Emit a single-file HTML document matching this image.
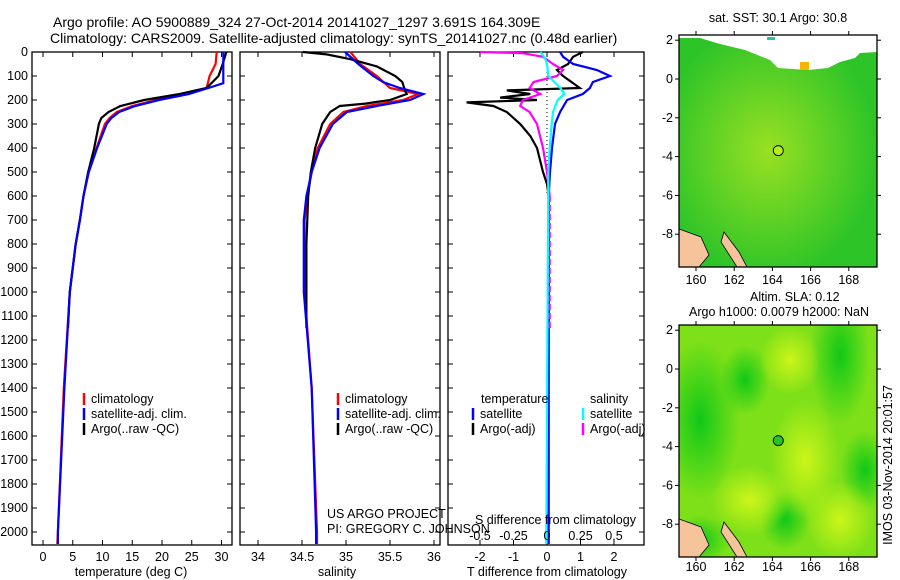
<!DOCTYPE html>
<html><head><meta charset="utf-8"><style>
body{margin:0;background:#fff}
svg{display:block;font-family:"Liberation Sans",sans-serif;font-size:12.5px}
</style></head><body>
<svg id="c" width="900" height="580" viewBox="0 0 900 580">
<defs>
<radialGradient id="g1" cx="0.45" cy="0.5" r="0.55"><stop offset="0" stop-color="#99e022"/><stop offset="1" stop-color="#2dc428"/></radialGradient>
<radialGradient id="b1" r="0.5"><stop offset="0" stop-color="#ccf51a"/><stop offset="1" stop-color="#ccf51a" stop-opacity="0"/></radialGradient>
<radialGradient id="b2" r="0.5"><stop offset="0" stop-color="#10c818"/><stop offset="1" stop-color="#10c818" stop-opacity="0"/></radialGradient>
<clipPath id="cp1"><rect x="679" y="35" width="198" height="232"/></clipPath>
<clipPath id="cp2"><rect x="679" y="325" width="198" height="232"/></clipPath>
</defs>
<text x="53" y="27" font-size="14">Argo profile: AO 5900889_324 27-Oct-2014 20141027_1297 3.691S 164.309E</text>
<text x="50" y="43" font-size="14">Climatology: CARS2009. Satellite-adjusted climatology: synTS_20141027.nc (0.48d earlier)</text>
<g id="plots"></g>
</svg>
<script>
const tDepth=[0,50,100,150,175,200,225,250,275,300,400,500,600,700,800,1000,1400,2000,2050];
const tClim=[29.2,29.0,28.0,27.5,24,19,15,12.4,11.2,10.4,9,7.6,6.8,6.2,5.5,4.5,3.5,2.5,2.4];
const tSatDepth=[0,130,150,175,200,225,250,275,300,400,500,600,700,800,1000,1400,2000,2050];
const tSat=[30.3,30.3,27.8,24.5,19.5,15.5,12.8,11.5,10.7,9.1,7.7,6.8,6.2,5.5,4.5,3.6,2.5,2.5];
const tArgoDepth=[0,50,100,150,175,200,225,250,275,300,400,500,600,700,800,1000,1150];
const tArgo=[30.8,30.2,29.5,27.5,23,17,13,11,9.8,9.4,8.6,7.6,6.8,6.2,5.5,4.5,4.2];
const sDepth=[0,50,100,150,175,200,225,250,300,400,500,600,700,1000,1400,2000,2050];
const sClim=[35.05,35.16,35.35,35.5,35.82,35.65,35.24,34.97,34.82,34.68,34.61,34.56,34.53,34.53,34.61,34.67,34.67];
const sSatDepth=[0,50,100,125,150,175,200,225,250,300,400,500,600,700,1000,1400,2000,2050];
const sSat=[34.99,35.14,35.31,35.42,35.61,35.88,35.73,35.35,35.01,34.85,34.7,34.61,34.55,34.52,34.52,34.61,34.66,34.66];
const sArgoDepth=[0,10,30,60,100,125,160,175,200,215,225,250,300,400,500,600,800,1150];
const sArgo=[34.51,34.78,35.05,35.35,35.56,35.64,35.67,35.69,35.5,35.22,34.93,34.82,34.73,34.65,34.6,34.57,34.55,34.55];
const dTSatDepth=[0,20,50,75,100,125,150,175,200,250,300,400,500,600,2050];
const dTSat=[0.39,0.48,0.78,1.49,1.88,1.37,1.28,1.07,0.6,0.39,0.24,0.15,0.09,0.05,0.05];
const dTArgoDepth=[0,20,50,75,100,150,160,175,190,200,210,225,250,300,350,400,500,550,600,1150];
const dTArgo=[1.07,0.78,0.63,0.3,0.48,0.98,-1.2,-0.5,-1.4,-0.3,-2.4,-1.6,-1.2,-0.8,-0.5,-0.3,-0.12,0,0.05,0.05];
const dSSatDepth=[0,25,50,100,150,175,200,250,300,400,500,2050];
const dSSat=[-0.05,-0.015,0,0.01,0.1,0.13,0.08,0.045,0.035,0.02,0.01,-0.005];
const dSArgoDepth=[0,5,20,50,75,100,125,150,175,200,225,250,300,400,500,600,1150];
const dSArgo=[-0.5,-0.18,-0.03,0.045,0.12,0.075,-0.1,-0.13,-0.05,-0.18,-0.2,-0.13,-0.075,-0.03,0,0.02,0.02];
const depthTicks=[0,100,200,300,400,500,600,700,800,900,1000,1100,1200,1300,1400,1500,1600,1700,1800,1900,2000];
const tTicks=[0,5,10,15,20,25,30];
const sTicks=[34,34.5,35,35.5,36];
const dTTicks=[-2,-1,0,1,2];
const dSTicks=[-0.5,-0.25,0,0.25,0.5];
const latTicks=[2,0,-2,-4,-6,-8];
const lonTicks=[160,162,164,166,168];
const argoLat=-3.691, argoLon=164.309;

const NS='http://www.w3.org/2000/svg';
const G=document.getElementById('plots');
function mk(tag,at,parent){const e=document.createElementNS(NS,tag);for(const k in at)e.setAttribute(k,at[k]);(parent||G).appendChild(e);return e;}
const yD=d=>52+d*0.24;
const xT=t=>43+t*5.95, xS=s=>258+(s-34)*88, xDT=v=>547+v*33.5, xDS=v=>547+v*134;

function line(xs,ds,fx,col,name,dash){
  const p=xs.map((v,i)=>fx(v).toFixed(1)+','+yD(ds[i]).toFixed(1)).join(' ');
  const e=mk('polyline',{points:p,fill:'none',stroke:col,'stroke-width':2.2});
  if(dash)e.setAttribute('stroke-dasharray',dash);
  
  
}
function frame(x0,x1,name){
  const r=mk('rect',{x:x0,y:52,width:x1-x0,height:493,fill:'none',stroke:'#000','stroke-width':1.3});
  
  
  depthTicks.forEach(d=>{mk('line',{x1:x0,x2:x0+5,y1:yD(d),y2:yD(d),stroke:'#000'});mk('line',{x1:x1,x2:x1-5,y1:yD(d),y2:yD(d),stroke:'#000'});});
}
function txt(x,y,s,name,anchor){const e=mk('text',{x:x,y:y,'text-anchor':anchor||'start'});e.textContent=s;return e;}
function xticks(ticks,fx,name,y0,y1,ly){
  ticks.forEach(t=>{mk('line',{x1:fx(t),x2:fx(t),y1:y1,y2:y1-5,stroke:'#000'});mk('line',{x1:fx(t),x2:fx(t),y1:y0,y2:y0+5,stroke:'#000'});
   txt(fx(t),ly,String(t),name,'middle');});
}
frame(32,232,'temperature-panel');
depthTicks.forEach(d=>txt(28,yD(d)+4,String(d),'depth-tick-label','end'));
xticks(tTicks,xT,'temperature-tick-label',52,545,561);
txt(131,576,'temperature (deg C)','temperature-axis-title','middle');
line(tClim,tDepth,xT,'#f00','temperature-climatology-line');
line(tArgo,tArgoDepth,xT,'#000','temperature-argo-line');
line(tSat,tSatDepth,xT,'#00f','temperature-satellite-line');
frame(240,440,'salinity-panel');
xticks(sTicks,xS,'salinity-tick-label',52,545,561);
txt(337,576,'salinity','salinity-axis-title','middle');
line(sClim,sDepth,xS,'#f00','salinity-climatology-line');
line(sArgo,sArgoDepth,xS,'#000','salinity-argo-line');
line(sSat,sSatDepth,xS,'#00f','salinity-satellite-line');
frame(448,644,'difference-panel');
xticks(dTTicks,xDT,'t-diff-tick-label',52,545,561);
txt(547,576,'T difference from climatology','t-diff-axis-title','middle');
mk('line',{x1:547,x2:547,y1:52,y2:yD(600),stroke:'#000','stroke-dasharray':'1,3'});
line(dTArgo,dTArgoDepth,xDT,'#000','t-diff-argo-line');
line(dTSat,dTSatDepth,xDT,'#00f','t-diff-satellite-line');
line(dSArgo.slice(0,16),dSArgoDepth.slice(0,16),xDS,'#f0f','s-diff-argo-line');
line(dSArgo.slice(15),dSArgoDepth.slice(15),xDS,'#f0f','s-diff-argo-dashed-line','6,3');
line(dSSat,dSSatDepth,xDS,'#0ff','s-diff-satellite-line');
txt(475,524,'S difference from climatology','s-diff-axis-title');
dSTicks.forEach(t=>txt(xDS(t),540,String(t),'s-diff-tick-label','middle'));
function leg(x,y,col,s,name){mk('line',{x1:x,x2:x,y1:y-10,y2:y+2,stroke:col,'stroke-width':2.5});txt(x+7,y,s,name);}
[84,338].forEach(x=>leg(x,403,'#f00','climatology','legend-climatology'));
[84,338].forEach(x=>leg(x,418,'#00f','satellite-adj. clim.','legend-satellite'));
[84,338].forEach(x=>leg(x,433,'#000','Argo(..raw -QC)','legend-argo'));
txt(481,403,'temperature','legend-temperature-heading');
txt(590,403,'salinity','legend-salinity-heading');
leg(473,418,'#00f','satellite','legend-t-satellite');
leg(473,433,'#000','Argo(-adj)','legend-t-argo');
leg(583,418,'#0ff','satellite','legend-s-satellite');
leg(583,433,'#f0f','Argo(-adj)','legend-s-argo');
txt(327,518,'US ARGO PROJECT','project-credit');
txt(327,533,'PI: GREGORY C. JOHNSON','pi-credit');
function map(y0,y1,lat0y,fill,name,blobs,markerFill,lblY,white,clip){
  const x0=679,x1=877, xL=l=>696+(l-160)*19.1, yL=l=>lat0y-l*19.4;
  const g=mk('g',{'clip-path':'url(#'+clip+')'});
  const r=mk('rect',{x:x0,y:y0,width:x1-x0,height:y1-y0,fill:fill},g);
  
  
  blobs.forEach(b=>mk('ellipse',{cx:b[0],cy:b[1],rx:b[2],ry:b[3],fill:b[4]},g));
  if(white){mk('path',{d:white,fill:'#fff'},g);mk('rect',{x:800,y:62,width:9,height:8,fill:'#f8b400'},g);mk('rect',{x:767,y:37,width:8,height:3,fill:'#20c8a0'});}
  mk('path',{d:`M${x0} ${y1-38} L${x0+22} ${y1-30} L${x0+30} ${y1-12} L${x0+20} ${y1} L${x0} ${y1}Z M${x0+45} ${y1-35} L${x0+60} ${y1-15} L${x0+68} ${y1} L${x0+58} ${y1} L${x0+42} ${y1-25}Z`,fill:'#f6c49a',stroke:'#000','stroke-width':0.8},g);
  mk('rect',{x:x0,y:y0,width:x1-x0,height:y1-y0,fill:'none',stroke:'#000','stroke-width':1.3});
  latTicks.forEach(l=>{mk('line',{x1:x0,x2:x0-4,y1:yL(l),y2:yL(l),stroke:'#000'});mk('line',{x1:x1,x2:x1+4,y1:yL(l),y2:yL(l),stroke:'#000'});txt(673,yL(l)+4,String(l),'map-lat-label','end');});
  lonTicks.forEach(l=>{mk('line',{x1:xL(l),x2:xL(l),y1:y0,y2:y0-4,stroke:'#000'});mk('line',{x1:xL(l),x2:xL(l),y1:y1,y2:y1+4,stroke:'#000'});txt(xL(l),lblY,String(l),'map-lon-label','middle');});
  const c=mk('circle',{cx:xL(argoLon),cy:yL(argoLat),r:5,fill:markerFill,stroke:'#000'});
  
  
}
map(35,267,79,'url(#g1)','sst-map',[],'#b8f010',284,'M679 35 H877 V52 L860 53 L855 58 L840 62 L828 68 L808 70 L778 68 L770 60 L745 50 L720 44 L700 38 L679 38 Z','cp1');
map(325,557,369,'#7ee018','sla-map',[[700,420,40,80,'url(#b2)'],[745,380,25,35,'url(#b2)'],[840,355,30,70,'url(#b2)'],[865,470,25,40,'url(#b2)'],[785,520,25,30,'url(#b2)'],[750,500,40,35,'url(#b1)'],[805,460,35,60,'url(#b1)'],[840,520,35,40,'url(#b1)'],[790,360,30,35,'url(#b1)'],[700,540,30,25,'url(#b2)']],'#22c822',571,null,'cp2');
txt(778,22,'sat. SST: 30.1  Argo: 30.8','sst-map-title','middle');
txt(750,301,'Altim. SLA: 0.12','sla-map-title');
txt(689,316,'Argo h1000: 0.0079 h2000: NaN','sla-map-subtitle');
const v=txt(0,0,'IMOS 03-Nov-2014 20:01:57','timestamp-label','middle');
v.setAttribute('transform','translate(892,465) rotate(-90)');
</script>
</body></html>
